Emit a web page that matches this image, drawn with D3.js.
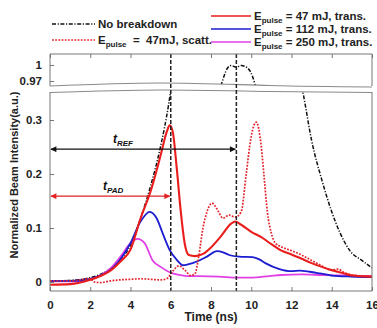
<!DOCTYPE html>
<html>
<head>
<meta charset="utf-8">
<script src="https://cdn.jsdelivr.net/npm/d3@7"></script>
<style>
  body { margin: 0; background: #fff; }
  svg { display: block; }
  text { font-family: "Liberation Sans", Arial, sans-serif; }
</style>
</head>
<body>
<div id="viz"></div>
<script>
// ---- data ----
const xTicks = [0, 2, 4, 6, 8, 10, 12, 14, 16];
const yTicksLow = [0, 0.1, 0.2, 0.3];
const yTicksHigh = [0.97, 1];
const markTimes = [6, 9.26]; // t_PAD end, t_REF end

const tNoBreak = [0,1,2,2.5,3,3.5,4,4.5,5,5.5,5.9,6.2,6.8,7.5,8.0,8.5,8.8,9.0,9.26,9.5,9.7,9.95,10.2,10.6,11.2,11.8,12.3,12.6,13.0,13.5,14.0,14.4,14.9,15.5,16];
const vNoBreak = [0.002,0.003,0.008,0.014,0.025,0.042,0.068,0.118,0.178,0.252,0.33,0.41,0.6,0.8,0.9,0.962,0.993,0.999,0.996,0.999,0.997,0.988,0.962,0.88,0.7,0.52,0.4,0.345,0.262,0.19,0.13,0.092,0.058,0.04,0.026];

const tScatt = [0,1,2,2.2,2.5,3,3.5,4,4.5,5,5.5,5.8,6.1,6.4,6.7,7.0,7.2,7.4,7.6,7.8,8.05,8.3,8.6,8.9,9.2,9.5,9.75,10.0,10.25,10.5,10.65,10.8,11.0,11.2,11.5,12,12.5,13,13.5,14,14.3,14.6,15,16];
const vScatt = [0.002,0.002,0.006,0.0,-0.001,0.002,0.004,0.005,0.006,0.005,0.004,0.006,0.02,0.03,0.022,0.012,0.015,0.05,0.1,0.13,0.146,0.135,0.118,0.124,0.12,0.13,0.2,0.27,0.296,0.25,0.19,0.13,0.09,0.072,0.065,0.058,0.05,0.04,0.03,0.022,0.024,0.018,0.013,0.01];

const t47 = [0,1,2,2.5,3,3.5,4,4.5,5,5.5,5.8,5.95,6.1,6.3,6.5,6.7,6.9,7.2,7.6,8,8.5,9,9.2,9.5,10,10.5,11,11.5,12,12.5,13,13.5,14,14.5,15,16];
const v47 = [-0.005,-0.004,0.004,0.011,0.021,0.038,0.06,0.118,0.168,0.235,0.278,0.29,0.278,0.21,0.13,0.07,0.05,0.048,0.052,0.064,0.085,0.108,0.112,0.106,0.093,0.083,0.07,0.058,0.051,0.043,0.035,0.028,0.022,0.017,0.012,0.01];

const t112 = [0,1,2,2.5,3,3.5,4,4.5,4.95,5.3,5.6,5.95,6.3,6.6,6.9,7.3,7.8,8.3,8.6,8.9,9.4,10.06,10.4,10.7,11.4,12,12.4,12.9,13.4,14,15,16];
const v112 = [0.002,0.002,0.006,0.012,0.022,0.042,0.072,0.112,0.13,0.118,0.09,0.059,0.041,0.031,0.033,0.038,0.047,0.057,0.055,0.05,0.047,0.046,0.042,0.035,0.024,0.02,0.021,0.019,0.016,0.012,0.01,0.009];

const t250 = [0,1,2,2.5,3,3.5,4,4.35,4.7,5.1,5.5,5.94,6.4,6.8,7.4,8.4,9.3,10,10.9,11.5,12.5,13.5,14.5,16];
const v250 = [0.001,0.001,0.005,0.012,0.025,0.047,0.072,0.08,0.072,0.04,0.028,0.018,0.013,0.011,0.011,0.01,0.008,0.008,0.011,0.013,0.014,0.013,0.012,0.011];

// ---- layout ----
const width = 377, height = 328;
const x0 = 50, x1 = 372;
const hiTop = 54, hiBot = 86, loTop = 92, loBot = 291;
const frameCol = '#777';

const x = d3.scaleLinear().domain([0, 16]).range([x0, x1]);
const yLow = d3.scaleLinear().domain([0, 0.3]).range([282, 120]);
const yHigh = d3.scaleLinear().domain([0.97, 1]).range([81, 65]);

const svg = d3.select('#viz').append('svg')
  .attr('width', width).attr('height', height);

const defs = svg.append('defs');
defs.append('clipPath').attr('id', 'clipHigh')
  .append('rect').attr('x', x0).attr('y', hiTop).attr('width', x1 - x0).attr('height', hiBot - hiTop);
defs.append('clipPath').attr('id', 'clipLow')
  .append('rect').attr('x', x0).attr('y', loTop).attr('width', x1 - x0).attr('height', loBot - loTop);

function arrowMarker(id, col) {
  defs.append('marker').attr('id', id)
    .attr('viewBox', '0 0 10 10').attr('refX', 9).attr('refY', 5)
    .attr('markerWidth', 7).attr('markerHeight', 6)
    .attr('markerUnits', 'userSpaceOnUse')
    .attr('orient', 'auto-start-reverse')
    .append('path').attr('d', 'M0,0 L10,5 L0,10 Z').attr('fill', col);
}
arrowMarker('arrBlack', '#111');
arrowMarker('arrRed', '#e32222');

// series styles
const series = [
  { t: tNoBreak, v: vNoBreak, col: '#111', w: 1.5, dash: '4,1.6,1.2,1.6' },
  { t: t250, v: v250, col: '#e040e6', w: 1.8, dash: null },
  { t: t112, v: v112, col: '#1c1cd0', w: 1.8, dash: null },
  { t: tScatt, v: vScatt, col: '#e3232c', w: 1.7, dash: '1.8,1.4' },
  { t: t47, v: v47, col: '#ea1d1d', w: 2.1, dash: null }
];

function drawPanel(yScale, clipId) {
  const g = svg.append('g').attr('clip-path', `url(#${clipId})`);
  const line = d3.line()
    .x(d => x(d[0])).y(d => yScale(d[1]))
    .curve(d3.curveMonotoneX);
  series.forEach(s => {
    g.append('path')
      .datum(d3.zip(s.t, s.v))
      .attr('d', line)
      .attr('fill', 'none')
      .attr('stroke', s.col)
      .attr('stroke-width', s.w)
      .attr('stroke-dasharray', s.dash)
      .attr('stroke-linejoin', 'round');
  });
}
drawPanel(yHigh, 'clipHigh');
drawPanel(yLow, 'clipLow');

// axis break band (white with two soft gray arcs)
const arcUp = [[x0, 86], [160, 83], [270, 85.5], [x1, 87]];
const arcDn = [[x0, 92.5], [160, 90], [270, 91.5], [x1, 92.5]];
const curveLine = d3.line().curve(d3.curveNatural);
svg.append('path')
  .attr('d', curveLine(arcUp) + 'L' + arcDn.slice().reverse().map(p => p.join(',')).join('L') + 'Z')
  .attr('fill', '#fff');
[arcUp, arcDn].forEach(a => {
  svg.append('path').attr('d', curveLine(a))
    .attr('fill', 'none').attr('stroke', '#8a8a8a').attr('stroke-width', 1.1);
});

// vertical reference lines
svg.selectAll('.vref').data(markTimes).enter().append('line')
  .attr('x1', d => x(d)).attr('x2', d => x(d))
  .attr('y1', hiTop).attr('y2', loBot)
  .attr('stroke', '#222').attr('stroke-width', 1.5)
  .attr('stroke-dasharray', '4,2');

// frame
const frame = svg.append('g').attr('stroke', frameCol).attr('stroke-width', 1).attr('fill', 'none');
frame.append('path').attr('d', `M${x0},${hiBot}V${hiTop}H${x1}V${hiBot}`);
frame.append('path').attr('d', `M${x0},${loTop}V${loBot}H${x1}V${loTop}`);

// axes
function styleAxis(g) {
  g.select('.domain').remove();
  g.selectAll('.tick line').attr('stroke', frameCol);
  g.selectAll('.tick text')
    .attr('font-size', '11.5px').attr('font-weight', 'bold').attr('fill', '#222')
    .attr('font-family', '"Liberation Sans", Arial, sans-serif');
}
svg.append('g').attr('transform', `translate(0,${loBot})`)
  .call(d3.axisBottom(x).tickValues(xTicks).tickSize(-4).tickPadding(10).tickFormat(d3.format('d')))
  .call(styleAxis);
svg.append('g').attr('transform', `translate(0,${hiTop})`)
  .call(d3.axisTop(x).tickValues(xTicks).tickSize(-4).tickFormat(''))
  .call(styleAxis);
svg.append('g').attr('transform', `translate(${x0},0)`)
  .call(d3.axisLeft(yLow).tickValues(yTicksLow).tickSize(-4).tickPadding(8).tickFormat(d3.format('~g')))
  .call(styleAxis);
svg.append('g').attr('transform', `translate(${x0},0)`)
  .call(d3.axisLeft(yHigh).tickValues(yTicksHigh).tickSize(-4).tickPadding(8).tickFormat(d3.format('~g')))
  .call(styleAxis);

// axis titles
svg.append('text')
  .attr('x', 211).attr('y', 321)
  .attr('text-anchor', 'middle')
  .attr('font-size', '12px').attr('font-weight', 'bold').attr('fill', '#222')
  .text('Time (ns)');
svg.append('text')
  .attr('transform', 'translate(18,175) rotate(-90)')
  .attr('text-anchor', 'middle')
  .attr('font-size', '11px').attr('font-weight', 'bold').attr('fill', '#222')
  .text('Normalized Beam Intensity(a.u.)');

// t_REF and t_PAD arrows
const refY = yLow(0.246), padY = yLow(0.159);
svg.append('line')
  .attr('x1', x(9.26) - 1).attr('x2', x0 + 1).attr('y1', refY).attr('y2', refY)
  .attr('stroke', '#111').attr('stroke-width', 1.2)
  .attr('marker-start', 'url(#arrBlack)').attr('marker-end', 'url(#arrBlack)');
svg.append('line')
  .attr('x1', x(6) - 1).attr('x2', x0 + 1).attr('y1', padY).attr('y2', padY)
  .attr('stroke', '#e32222').attr('stroke-width', 1.2)
  .attr('marker-start', 'url(#arrRed)').attr('marker-end', 'url(#arrRed)');

function italicLabel(px, py, main, sub) {
  const t = svg.append('text')
    .attr('x', px).attr('y', py)
    .attr('font-family', '"DejaVu Serif", "Liberation Serif", serif')
    .attr('font-style', 'italic').attr('font-weight', 'bold')
    .attr('font-size', '12px').attr('fill', '#111');
  t.append('tspan').text(main);
  t.append('tspan').attr('font-size', '8px').attr('dy', 3).text(sub);
}
italicLabel(113, 143, 't', 'REF');
italicLabel(103, 190, 't', 'PAD');

// legend
function legendItem(lx0, lx1, ly, col, w, dash, parts) {
  svg.append('line')
    .attr('x1', lx0).attr('x2', lx1).attr('y1', ly).attr('y2', ly)
    .attr('stroke', col).attr('stroke-width', w).attr('stroke-dasharray', dash);
  const t = svg.append('text')
    .attr('x', lx1 + 3).attr('y', ly + 4)
    .attr('font-family', '"Liberation Serif", "DejaVu Serif", serif')
    .attr('font-weight', 'bold').attr('font-size', '11.5px').attr('fill', '#222')
    .style('white-space', 'pre');
  parts.forEach(p => {
    const sp = t.append('tspan').text(p.s);
    if (p.sub) sp.attr('font-size', '8px').attr('dy', 2.5);
    if (p.back) sp.attr('dy', -2.5);
  });
}
const pulse = (rest) => [{ s: 'E' }, { s: 'pulse', sub: true }, { s: rest, back: true }];
legendItem(52, 95, 24, '#111', 1.4, '4,1.6,1.2,1.6', [{ s: 'No breakdown' }]);
legendItem(52, 95, 40, '#e3232c', 1.6, '1.8,1.4', pulse('  =  47mJ, scatt.'));
legendItem(211, 251, 16, '#ea1d1d', 1.4, null, pulse(' = 47 mJ, trans.'));
legendItem(211, 251, 29, '#1c1cd0', 1.4, null, pulse(' = 112 mJ, trans.'));
legendItem(211, 251, 42, '#e040e6', 1.4, null, pulse(' = 250 mJ, trans.'));
</script>
</body>
</html>
